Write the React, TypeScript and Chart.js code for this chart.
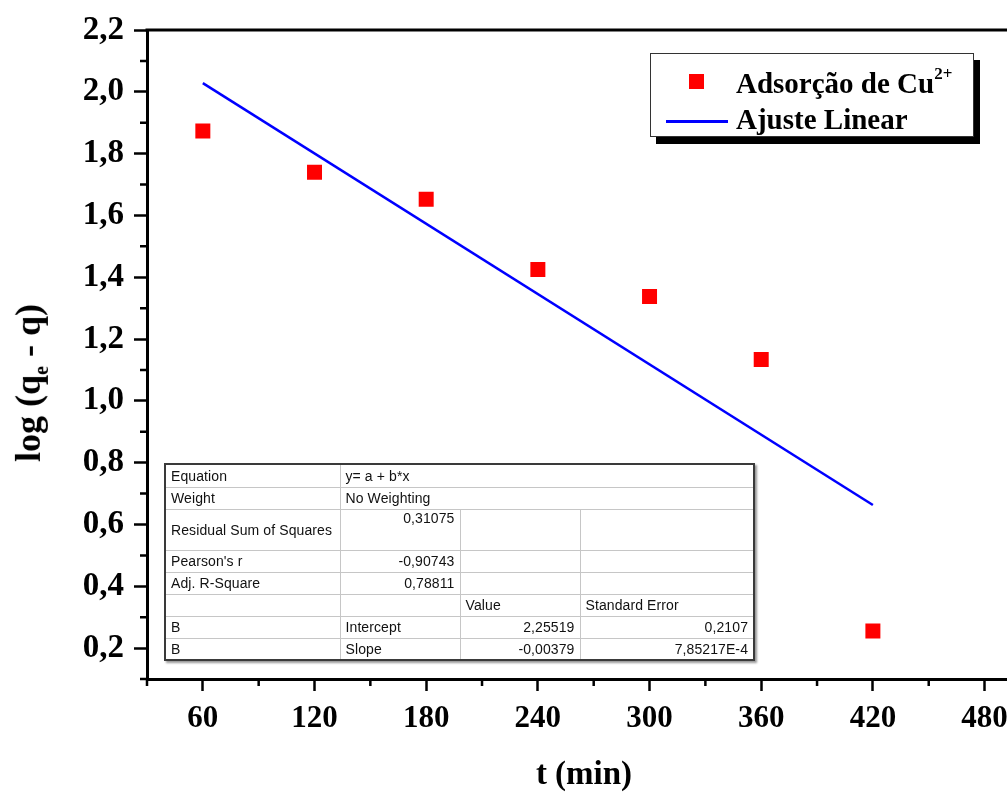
import React, { useEffect, useRef } from "react";
import { Chart, registerables } from "chart.js";

Chart.register(...registerables);

// ---- data ----
const times = [60, 120, 180, 240, 300, 360, 420];
const logQ = [1.873, 1.74, 1.652, 1.425, 1.338, 1.134, 0.255];
const fitX = [60, 420];
const fitY = [2.028, 0.663];

const xTicks = [60, 120, 180, 240, 300, 360, 420, 480];
const xMinor = [30, 90, 150, 210, 270, 330, 390, 450, 510];
const yTicks = [0.2, 0.4, 0.6, 0.8, 1.0, 1.2, 1.4, 1.6, 1.8, 2.0, 2.2];
const yMinor = [0.1, 0.3, 0.5, 0.7, 0.9, 1.1, 1.3, 1.5, 1.7, 1.9, 2.1];

const tableLabels = ["Equation", "Weight", "Residual Sum of Squares", "Pearson's r", "Adj. R-Square", "", "B", "B"];
const tableCol1 = ["y= a + b*x", "No Weighting", "0,31075", "-0,90743", "0,78811", "", "Intercept", "Slope"];
const tableCol2 = ["", "", "", "", "", "Value", "2,25519", "-0,00379"];
const tableCol3 = ["", "", "", "", "", "Standard Error", "0,2107", "7,85217E-4"];

const SERIF = "'Liberation Serif', 'Times New Roman', serif";
const SANS = "'Liberation Sans', Arial, sans-serif";

const fmt = (v: number) => v.toFixed(1).replace(".", ",");

const framePlugin = {
  id: "frame",
  afterDraw(chart: any) {
    const { ctx, chartArea: a, scales } = chart;
    ctx.save();
    ctx.strokeStyle = "#000";
    ctx.lineWidth = 3;
    ctx.beginPath();
    ctx.moveTo(a.left - 1.5, a.top);
    ctx.lineTo(a.right, a.top);
    ctx.lineTo(a.right, a.bottom);
    ctx.stroke();
    ctx.lineWidth = 2.5;
    ctx.beginPath();
    xMinor.forEach((v) => {
      const px = scales.x.getPixelForValue(v);
      ctx.moveTo(px, a.bottom);
      ctx.lineTo(px, a.bottom + 7);
    });
    yMinor.forEach((v) => {
      const py = scales.y.getPixelForValue(v);
      ctx.moveTo(a.left - 7, py);
      ctx.lineTo(a.left, py);
    });
    ctx.stroke();
    ctx.restore();
  },
};

function ChartCanvas() {
  const ref = useRef<HTMLCanvasElement | null>(null);
  useEffect(() => {
    if (!ref.current) return;
    const chart = new Chart(ref.current, {
      type: "scatter",
      data: {
        datasets: [
          {
            label: "Adsorção de Cu2+",
            data: times.map((t, i) => ({ x: t, y: logQ[i] })),
            backgroundColor: "#ff0000",
            borderColor: "#ff0000",
            pointStyle: "rect",
            pointRadius: 10.6,
            pointHoverRadius: 10.6,
            borderWidth: 0,
          },
          {
            type: "line",
            label: "Ajuste Linear",
            data: fitX.map((t, i) => ({ x: t, y: fitY[i] })),
            borderColor: "#0000ff",
            borderWidth: 2.5,
            pointRadius: 0,
            showLine: true,
            fill: false,
          } as any,
        ],
      },
      options: {
        animation: false,
        responsive: false,
        devicePixelRatio: 1,
        layout: { padding: { top: 30, left: 0, right: 1, bottom: 0 } },
        plugins: { legend: { display: false }, tooltip: { enabled: false } },
        scales: {
          x: {
            type: "linear",
            min: 30,
            max: 510,
            afterFit: (s: any) => {
              s.height = 113;
            },
            afterBuildTicks: (s: any) => {
              s.ticks = xTicks.map((v) => ({ value: v }));
            },
            ticks: {
              color: "#000",
              padding: 9,
              font: { family: SERIF, size: 31, weight: "bold" },
              maxRotation: 0,
              callback: (v: any) => String(v),
            },
            grid: {
              display: true,
              drawOnChartArea: false,
              drawTicks: true,
              tickLength: 12,
              tickWidth: 2.5,
              tickColor: "#000",
            },
            border: { display: true, color: "#000", width: 3 },
          },
          y: {
            type: "linear",
            min: 0.1,
            max: 2.2,
            afterFit: (s: any) => {
              s.width = 147;
            },
            afterBuildTicks: (s: any) => {
              s.ticks = yTicks.map((v) => ({ value: v }));
            },
            ticks: {
              color: "#000",
              padding: 10,
              font: { family: SERIF, size: 33, weight: "bold" },
              callback: (v: any) => fmt(Number(v)),
            },
            grid: {
              display: true,
              drawOnChartArea: false,
              drawTicks: true,
              tickLength: 13,
              tickWidth: 2.5,
              tickColor: "#000",
            },
            border: { display: true, color: "#000", width: 3 },
          },
        },
      },
      plugins: [framePlugin],
    });
    return () => chart.destroy();
  }, []);
  return <canvas ref={ref} width={1051} height={792} style={{ display: "block" }} />;
}

const rowH = [23, 22, 41, 22, 22, 22, 22, 22];
const colW = [175, 120, 120, 174];

function StatsTable() {
  const cell = (extra: any = {}) => ({
    border: "1px solid #c6c6c6",
    padding: "0 5px",
    fontFamily: SANS,
    fontSize: 14,
    letterSpacing: "0.1px",
    color: "#111",
    whiteSpace: "nowrap" as const,
    overflow: "hidden",
    verticalAlign: "middle",
    ...extra,
  });
  return (
    <table
      style={{
        position: "absolute",
        left: 164,
        top: 463,
        width: 589,
        borderCollapse: "collapse",
        tableLayout: "fixed",
        background: "#fff",
        border: "2px solid #3a3a3a",
        boxShadow: "2px 2px 2px #999",
      }}
    >
      <colgroup>
        {colW.map((w, i) => (
          <col key={i} style={{ width: w }} />
        ))}
      </colgroup>
      <tbody>
        {tableLabels.map((lab, r) => {
          const h = rowH[r];
          if (r < 2) {
            return (
              <tr key={r} style={{ height: h }}>
                <td style={cell()}>{lab}</td>
                <td colSpan={3} style={cell()}>{tableCol1[r]}</td>
              </tr>
            );
          }
          const numeric = r >= 2 && r <= 4;
          return (
            <tr key={r} style={{ height: h }}>
              <td style={cell()}>{lab}</td>
              <td style={cell({ textAlign: numeric ? "right" : "left", verticalAlign: r === 2 ? "top" : "middle" })}>
                {tableCol1[r]}
              </td>
              <td style={cell({ textAlign: r >= 6 ? "right" : "left" })}>{tableCol2[r]}</td>
              <td style={cell({ textAlign: r >= 6 ? "right" : "left" })}>{tableCol3[r]}</td>
            </tr>
          );
        })}
      </tbody>
    </table>
  );
}

function Legend() {
  const txt = {
    position: "absolute" as const,
    left: 85,
    fontFamily: SERIF,
    fontWeight: "bold" as const,
    fontSize: 29,
    lineHeight: "29px",
    color: "#000",
    whiteSpace: "nowrap" as const,
  };
  return (
    <div
      style={{
        position: "absolute",
        left: 650,
        top: 53,
        width: 324,
        height: 84,
        boxSizing: "border-box",
        border: "1.5px solid #333",
        background: "#fff",
        boxShadow: "6px 7px 0 #000",
      }}
    >
      <div style={{ position: "absolute", left: 38, top: 20, width: 15, height: 15, background: "#ff0000" }} />
      <div style={{ ...txt, top: 15 }}>
        Adsorção de Cu
        <span style={{ fontSize: 17, position: "relative", top: -14 }}>2+</span>
      </div>
      <div style={{ position: "absolute", left: 15, top: 66, width: 62, height: 2.5, background: "#0000ff" }} />
      <div style={{ ...txt, top: 51 }}>Ajuste Linear</div>
    </div>
  );
}

export default function App() {
  return (
    <div
      style={{
        position: "absolute",
        left: 0,
        top: 0,
        width: 1007,
        height: 792,
        overflow: "hidden",
        background: "#fff",
      }}
    >
      <ChartCanvas />
      <StatsTable />
      <Legend />
      <div
        style={{
          position: "absolute",
          left: 30,
          top: 383,
          transform: "translate(-50%, -50%) rotate(-90deg)",
          fontFamily: SERIF,
          fontWeight: "bold",
          fontSize: 36,
          whiteSpace: "nowrap",
          color: "#000",
        }}
      >
        log (q<sub style={{ fontSize: 20 }}>e</sub> - q)
      </div>
      <div
        style={{
          position: "absolute",
          left: 584,
          top: 773,
          transform: "translate(-50%, -50%)",
          fontFamily: SERIF,
          fontWeight: "bold",
          fontSize: 33,
          whiteSpace: "nowrap",
          color: "#000",
        }}
      >
        t (min)
      </div>
    </div>
  );
}
